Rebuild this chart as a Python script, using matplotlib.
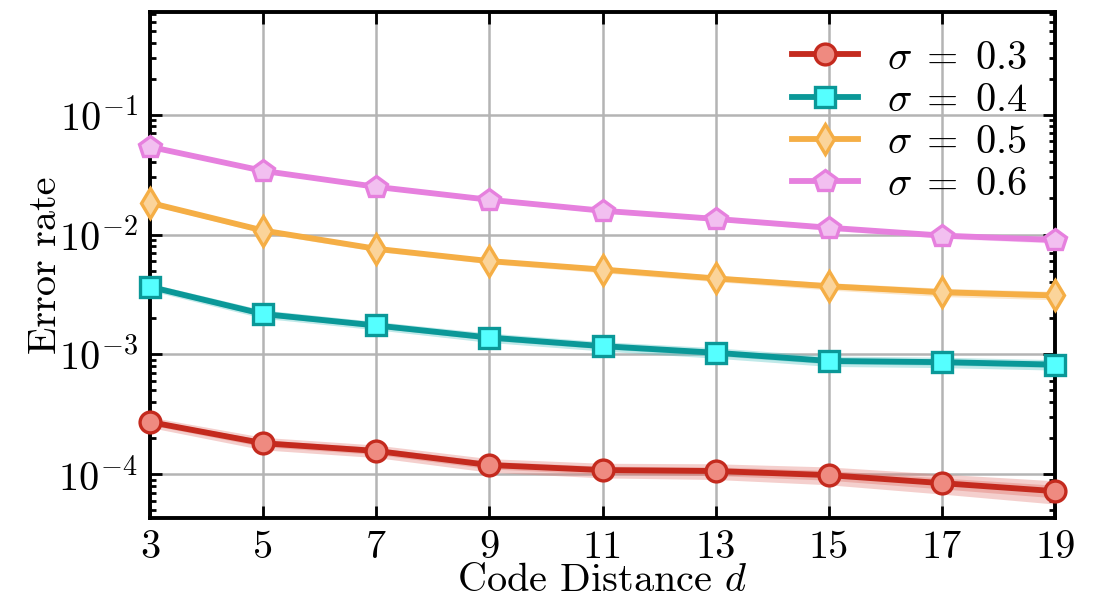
import matplotlib
matplotlib.use("Agg")
import matplotlib.pyplot as plt
import numpy as np

plt.rcParams['font.family'] = 'serif'
plt.rcParams['font.serif'] = ['cmr10']
plt.rcParams['mathtext.fontset'] = 'cm'
plt.rcParams['axes.formatter.use_mathtext'] = True

distances = [3, 5, 7, 9, 11, 13, 15, 17, 19]
labels = [r'$\sigma\;=\;0.3$', r'$\sigma\;=\;0.4$', r'$\sigma\;=\;0.5$', r'$\sigma\;=\;0.6$']

err_s03 = [2.72e-4, 1.81e-4, 1.56e-4, 1.19e-4, 1.08e-4, 1.06e-4, 9.8e-5, 8.4e-5, 7.2e-5]
err_s04 = [3.66e-3, 2.17e-3, 1.74e-3, 1.38e-3, 1.17e-3, 1.03e-3, 8.8e-4, 8.6e-4, 8.2e-4]
err_s05 = [1.84e-2, 1.08e-2, 7.6e-3, 6.0e-3, 5.1e-3, 4.3e-3, 3.7e-3, 3.3e-3, 3.1e-3]
err_s06 = [5.4e-2, 3.4e-2, 2.5e-2, 1.95e-2, 1.58e-2, 1.35e-2, 1.14e-2, 9.8e-3, 9.0e-3]

# relative half-width of the shaded uncertainty bands
band_s03 = [0.10, 0.12, 0.12, 0.13, 0.14, 0.15, 0.17, 0.19, 0.22]
band_s04 = [0.07, 0.08, 0.08, 0.09, 0.09, 0.10, 0.10, 0.10, 0.10]
band_s05 = [0.04, 0.05, 0.05, 0.05, 0.06, 0.06, 0.07, 0.08, 0.08]
band_s06 = [0.03, 0.03, 0.03, 0.04, 0.04, 0.04, 0.05, 0.05, 0.06]

series = [err_s03, err_s04, err_s05, err_s06]
bands = [band_s03, band_s04, band_s05, band_s06]
line_colors = ['#c42a1e', '#0a9898', '#f5ae45', '#e680de']
face_colors = ['#ef8a80', '#55ffff', '#fbd49a', '#f2bff0']
band_colors = ['#e07870', '#4cc0c0', '#f5bb6a', '#eea0e8']
markers = ['o', 's', 'd', 'p']
msizes = [15, 14, 15, 16]

fig = plt.figure(figsize=(10.98, 6.03), dpi=100)
ax = fig.add_axes([0.1366, 0.141, 0.8244, 0.839])

x = np.array(distances)
for vals, bw, lc, fc, bc, mk, ms, lab in zip(series, bands, line_colors, face_colors,
                                             band_colors, markers, msizes, labels):
    v = np.array(vals)
    b = np.array(bw)
    ax.fill_between(x, v * (1 - b), v * (1 + b), color=bc, alpha=0.35, lw=0, zorder=2)
    ax.fill_between(x, v * (1 - 0.55 * b), v * (1 + 0.55 * b), color=bc, alpha=0.4, lw=0, zorder=2)
    ax.plot(x, v, color=lc, lw=4.2, marker=mk, ms=ms, mfc=fc, mec=lc, mew=2.4,
            label=lab, zorder=4, clip_on=False)

ax.set_yscale('log')
ax.set_xlim(3, 19)
ax.set_ylim(4.3e-5, 0.72)
ax.set_xticks(distances)
ax.set_xticklabels([str(d) for d in distances])
ax.set_yticks([1e-4, 1e-3, 1e-2, 1e-1])

ax.grid(True, which='major', color='#b4b4b4', lw=1.8, zorder=0)
ax.set_axisbelow(True)

ax.tick_params(which='both', direction='in', top=True, right=True, width=2.0)
ax.tick_params(which='major', length=8.5, labelsize=29, pad=9)
ax.tick_params(which='minor', length=4.5)
ax.tick_params(axis='x', which='minor', bottom=False, top=False)
for s in ax.spines.values():
    s.set_linewidth(2.8)

ax.set_xlabel(r'Code Distance $d$', fontsize=29, labelpad=-2)
ax.set_ylabel('Error rate', fontsize=29, labelpad=-4)

leg = ax.legend(loc='upper right', fontsize=29, frameon=False, handlelength=1.65,
                labelspacing=0.15, borderaxespad=0.3, handletextpad=0.7)

fig.savefig('out.png', dpi=100)
